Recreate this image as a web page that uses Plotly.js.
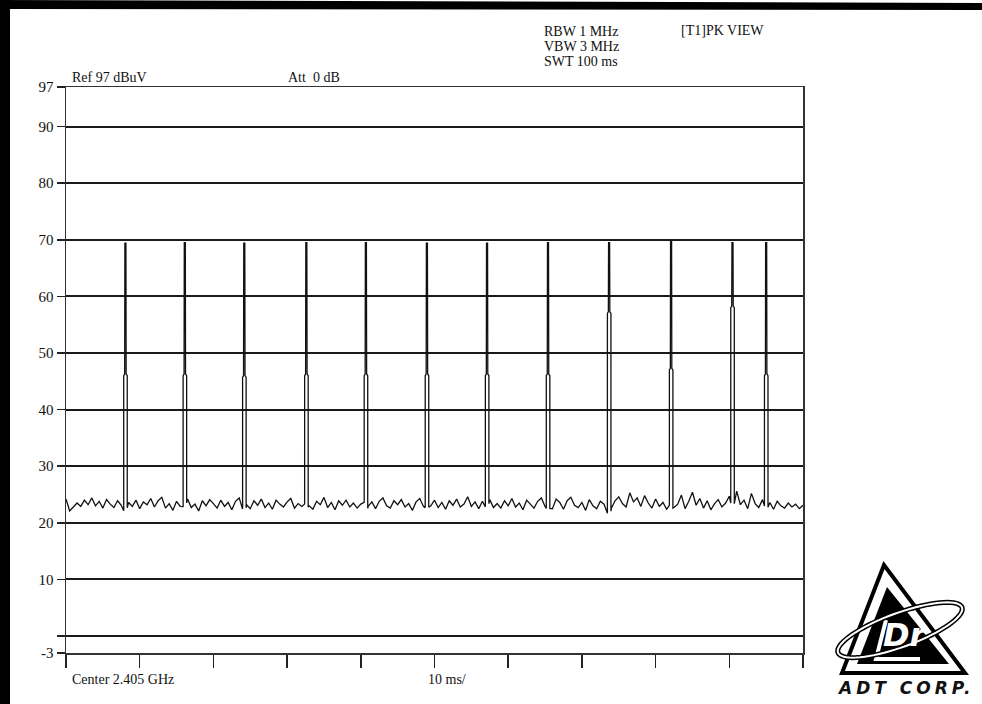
<!DOCTYPE html>
<html>
<head>
<meta charset="utf-8">
<script src="https://cdn.plot.ly/plotly-3.0.1.min.js"></script>
<style>
  html, body { margin: 0; padding: 0; background: #fff; }
  #chart { width: 982px; height: 704px; }
  g.annotation[data-index="9"] text { letter-spacing: 4px; }
</style>
</head>
<body>
<div id="chart"></div>
<script>
// Sweep: 0 .. 100 ms, zero span at 2.405 GHz, level in dBuV
const sweepStart = 0;      // ms
const sampleStep = 0.5;    // ms between trace samples

// Noise floor samples (dBuV), one every 0.5 ms
const noiseFloor = [
  24.2, 22.1, 22.8, 23.5, 22.9, 24.0, 23.2, 24.4, 23.0, 23.8, 22.6, 24.1, 23.3, 22.7, 23.9, 23.1, 22.4, 23.6, 22.9, 24.0,
  22.5, 23.7, 23.2, 24.3, 22.8, 23.9, 24.5, 22.6, 23.4, 22.2, 23.8, 22.9, 23.5, 24.2, 22.7, 23.3, 22.1, 23.9, 23.0, 24.1,
  23.4, 22.6, 24.0, 22.9, 23.6, 22.3, 23.8, 24.4, 22.8, 23.2, 22.5, 23.9, 23.1, 24.2, 22.7, 23.5, 22.4, 24.0, 23.3, 22.8,
  23.7, 24.3, 22.6, 23.4, 22.9, 24.1, 23.0, 22.4, 23.8, 23.2, 24.5, 22.7, 23.6, 22.3, 23.9, 23.1, 24.0, 22.8, 23.5, 22.6,
  23.3, 24.2, 22.9, 23.7, 22.5, 23.8, 24.4, 23.0, 22.6, 23.9, 23.2, 24.1, 22.8, 23.4, 22.2, 23.7, 24.3, 22.9, 23.5, 23.0,
  24.0, 22.7, 23.6, 22.4, 23.9, 23.1, 24.2, 22.8, 23.3, 24.6, 22.9, 23.7, 22.5, 23.8, 23.2, 24.1, 22.7, 23.4, 22.6, 23.9,
  23.0, 24.3, 22.8, 23.5, 22.3, 24.0, 23.2, 22.6, 23.8, 24.4, 22.9, 23.3, 22.5, 24.2, 23.6, 22.4, 23.9, 24.5, 23.1, 22.7,
  23.6, 22.2, 24.1, 23.0, 22.5, 23.8, 23.3, 22.1, 22.6, 23.9, 24.6, 23.4, 22.8, 25.3, 23.7, 24.4, 22.9, 24.8, 23.5, 22.6,
  24.2, 22.9, 23.6, 22.4, 24.0, 22.7, 23.3, 24.9, 22.5, 23.8, 25.4, 23.1, 24.3, 22.6, 23.9, 22.3, 23.4, 24.1, 22.8, 23.5,
  24.7, 22.9, 25.6, 23.2, 24.0, 22.5, 25.2, 23.4, 22.7, 24.1, 22.9, 23.6, 22.4, 23.8, 23.0, 22.6, 23.5, 22.8, 23.3, 22.5,
  23.1
];

// Burst pulses: start time (ms), peak level and shoulder level (dBuV)
const pulseTimes     = [7.83, 15.89, 23.96, 32.38, 40.46, 48.74, 56.90, 65.17, 73.46, 81.87, 90.20, 94.77];
const pulsePeaks     = [69.4, 69.5, 69.4, 69.5, 69.5, 69.4, 69.4, 69.5, 69.5, 69.8, 69.5, 69.5];
const pulseShoulders = [46.0, 46.0, 45.7, 46.0, 46.0, 46.0, 46.0, 46.0, 57.0, 47.0, 58.0, 46.0];

// Axis ticks
const levelTicks  = [-3, 0, 10, 20, 30, 40, 50, 60, 70, 80, 90, 97];
const levelLabels = ['-3', '', '10', '20', '30', '40', '50', '60', '70', '80', '90', '97'];
const timeTicks   = [0, 10, 20, 30, 40, 50, 60, 70, 80, 90, 100];

// ---- build the trace ----
const pulseWidth = 0.48;   // ms, pedestal width
function noiseAt(t) {
  const f = (t - sweepStart) / sampleStep;
  const i = Math.max(0, Math.min(noiseFloor.length - 1, Math.floor(f)));
  const j = Math.min(noiseFloor.length - 1, i + 1);
  return noiseFloor[i] + (noiseFloor[j] - noiseFloor[i]) * (f - i);
}
const pts = [];
noiseFloor.forEach((v, i) => {
  const t = sweepStart + i * sampleStep;
  const inside = pulseTimes.some(s => t >= s - 0.02 && t <= s + pulseWidth + 0.02);
  if (!inside) pts.push([t, v]);
});
pulseTimes.forEach((s, k) => {
  const top = pulsePeaks[k], sh = pulseShoulders[k];
  const w = pulseWidth;
  pts.push([s, noiseAt(s) - 0.5]);          // rising edge of the pedestal
  pts.push([s + 0.001, sh]);
  pts.push([s + 0.13, sh + 0.3]);            // narrow peak on top of the pedestal
  pts.push([s + 0.16, top]);
  pts.push([s + 0.30, top]);
  pts.push([s + 0.33, sh + 0.3]);
  pts.push([s + w - 0.001, sh]);
  pts.push([s + w, noiseAt(s + w) - 0.5]);  // falling edge
});
pts.sort((a, b) => a[0] - b[0]);

const trace = {
  type: 'scatter', mode: 'lines',
  x: pts.map(p => p[0]), y: pts.map(p => p[1]),
  line: { color: '#111', width: 1.3 },
  hoverinfo: 'skip'
};

// ---- page geometry helpers (pixel -> paper) ----
const L = 66, T = 87, W = 737, H = 566;
const px = x => (x - L) / W;
const py = y => (T + H - y) / H;
const P = (x, y) => px(x) + ',' + py(y);
function poly(points, close) {
  return 'M' + points.map(p => P(p[0], p[1])).join(' L') + (close ? ' Z' : '');
}
function ellipsePath(cx, cy, a, b, deg) {
  const r = deg * Math.PI / 180, out = [];
  for (let i = 0; i <= 72; i++) {
    const t = i / 72 * 2 * Math.PI;
    const ex = a * Math.cos(t), ey = b * Math.sin(t);
    out.push([cx + ex * Math.cos(r) + ey * Math.sin(r), cy - ex * Math.sin(r) + ey * Math.cos(r)]);
  }
  return poly(out, true);
}

const serif = { family: 'Liberation Serif, Times New Roman, serif', size: 14, color: '#111' };
function label(text, x, y, extra) {
  return Object.assign({ xref: 'paper', yref: 'paper', x: px(x), y: py(y), xanchor: 'left', yanchor: 'middle',
    showarrow: false, text: text, font: serif }, extra || {});
}

const annotations = [
  label('Ref 97 dBuV', 70, 77),
  label('Att  0 dB', 286, 77),
  label('RBW 1 MHz', 542, 32),
  label('VBW 3 MHz', 542, 47),
  label('SWT 100 ms', 542, 62),
  label('[T1]PK VIEW', 679, 31),
  label('Center 2.405 GHz', 70, 680),
  label('10 ms/', 426, 680),
  // logo lettering
  label('<b><i>Dr</i></b>', 906, 635, { xanchor: 'center', font: { family: 'DejaVu Sans, sans-serif', size: 32, color: '#fff' } }),
  label('<b><i>ADT CORP.</i></b>', 905, 688, { xanchor: 'center', font: { family: 'DejaVu Sans, sans-serif', size: 17, color: '#111' } })
];

const shapes = [
  // scanned page border
  { type: 'path', xref: 'paper', yref: 'paper', path: poly([[0, 0], [982, 3], [982, 10], [0, 9]], true), fillcolor: '#000', line: { width: 0 } },
  { type: 'path', xref: 'paper', yref: 'paper', path: poly([[0, 0], [10, 0], [10, 704], [0, 704]], true), fillcolor: '#000', line: { width: 0 } },
  // logo: outer triangle, inner solid triangle, white L-stroke, orbit
  { type: 'path', xref: 'paper', yref: 'paper', path: poly([[884, 565], [842, 673], [965, 673]], true), fillcolor: '#fff', line: { color: '#000', width: 4 } },
  { type: 'path', xref: 'paper', yref: 'paper', path: poly([[887, 587], [857, 664], [949, 664]], true), fillcolor: '#000', line: { width: 0 } },
  { type: 'path', xref: 'paper', yref: 'paper', path: poly([[886, 620], [876, 659], [920, 659]], false), line: { color: '#fff', width: 4 } },
  { type: 'path', xref: 'paper', yref: 'paper', path: ellipsePath(900, 630, 66, 17, 20), line: { color: '#000', width: 5 } },
  { type: 'path', xref: 'paper', yref: 'paper', path: ellipsePath(900, 630, 66, 17, 20), line: { color: '#fff', width: 2 } }
];

const layout = {
  width: 982, height: 704,
  margin: { l: L, r: 982 - L - W, t: T, b: 704 - T - H, pad: 0 },
  paper_bgcolor: '#fff', plot_bgcolor: '#fff',
  showlegend: false,
  xaxis: {
    range: [0, 100], tickvals: timeTicks, showticklabels: false,
    ticks: 'outside', ticklen: 13, tickwidth: 1.5, tickcolor: '#222',
    showgrid: false, zeroline: false,
    showline: true, mirror: true, linecolor: '#333', linewidth: 1.5
  },
  yaxis: {
    range: [-3, 97], tickvals: levelTicks, ticktext: levelLabels,
    ticks: 'outside', ticklen: 8, tickwidth: 1.5, tickcolor: '#222',
    tickfont: { family: 'Liberation Serif, Times New Roman, serif', size: 15, color: '#111' },
    showgrid: true, gridcolor: '#1a1a1a', gridwidth: 2, zeroline: false,
    showline: true, mirror: true, linecolor: '#333', linewidth: 1.5
  },
  annotations: annotations,
  shapes: shapes
};

Plotly.newPlot('chart', [trace], layout, { staticPlot: true, displayModeBar: false });
</script>
</body>
</html>
